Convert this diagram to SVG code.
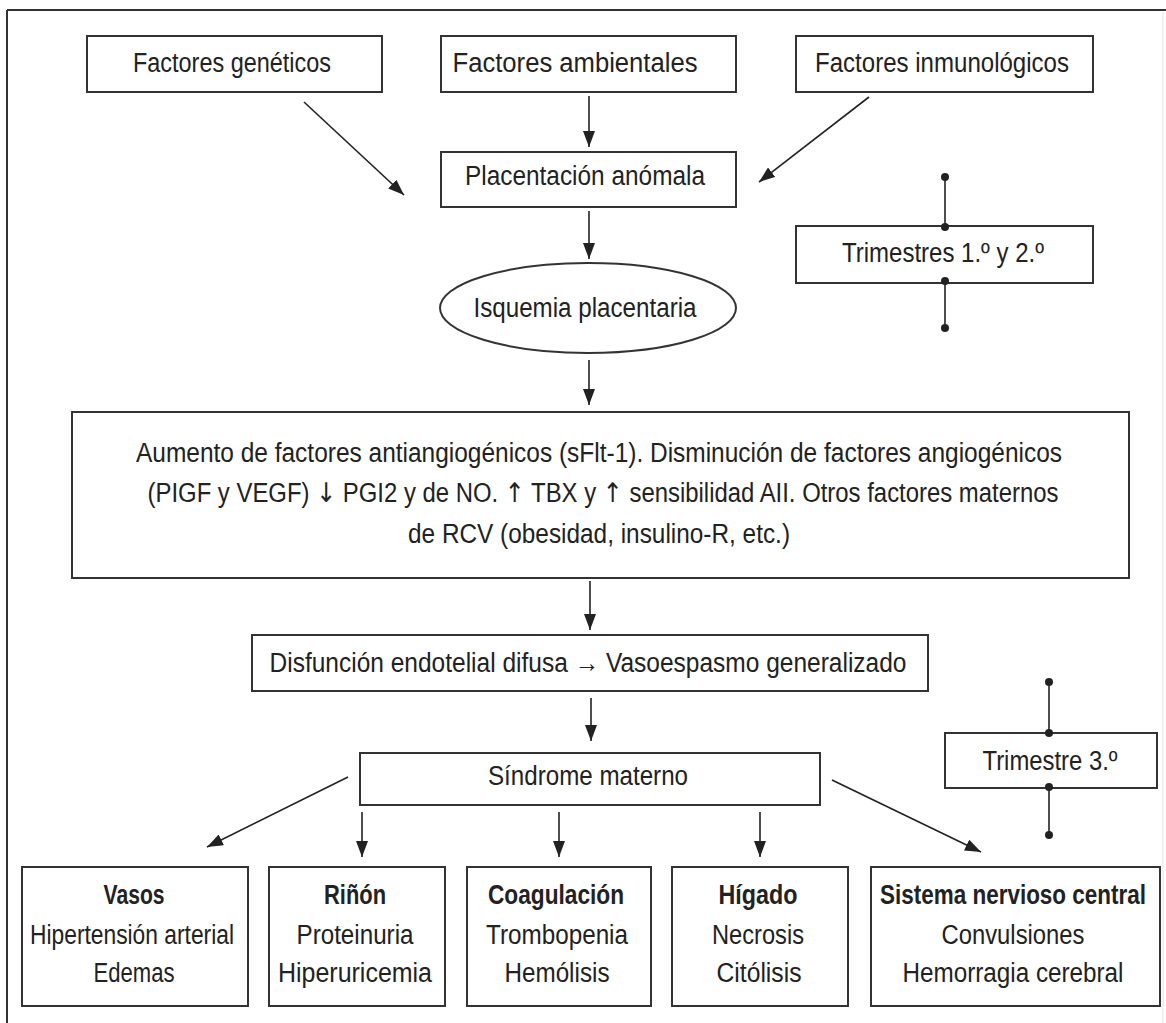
<svg xmlns="http://www.w3.org/2000/svg" width="1166" height="1023" viewBox="0 0 1166 1023">
<defs>
<marker id="ah" markerUnits="userSpaceOnUse" markerWidth="16" markerHeight="12" refX="16" refY="6" orient="auto">
<path d="M0,0 L16,6 L0,12 z" fill="#222"/>
</marker>
<style>
.box{fill:#fff;stroke:#333;stroke-width:2}
.t{font-family:"Liberation Sans",Arial,sans-serif;font-size:27px;fill:#222;text-anchor:middle}
.b{font-weight:bold}
.ar{font-family:"DejaVu Sans",sans-serif;fill:#222}
.c{stroke:#222;stroke-width:1.6;fill:none}
.cm{stroke:#222;stroke-width:1.6;fill:none;marker-end:url(#ah)}
.dot{fill:#222}
</style>
</defs>
<rect x="0" y="0" width="1166" height="1023" fill="#fff"/>
<g id="frame">
<line x1="7" y1="10" x2="1166" y2="10" stroke="#333" stroke-width="2"/>
<line x1="7" y1="10" x2="7" y2="1023" stroke="#333" stroke-width="2"/>
<line x1="1163" y1="12" x2="1163" y2="1023" stroke="#e4e4e4" stroke-width="1"/>
</g>
<g id="connectors">
<line class="cm" x1="304" y1="102" x2="404" y2="195"/>
<line class="cm" x1="589" y1="96" x2="589" y2="147"/>
<line class="cm" x1="869" y1="97" x2="759" y2="182"/>
<line class="cm" x1="589" y1="211" x2="589" y2="259"/>
<line class="cm" x1="589" y1="360" x2="589" y2="405"/>
<line class="cm" x1="590" y1="581" x2="590" y2="630"/>
<line class="cm" x1="591" y1="698" x2="591" y2="741"/>
<line class="cm" x1="348" y1="777" x2="207" y2="847"/>
<line class="cm" x1="362" y1="812" x2="362" y2="857"/>
<line class="cm" x1="559" y1="812" x2="559" y2="857"/>
<line class="cm" x1="760" y1="812" x2="760" y2="857"/>
<line class="cm" x1="832" y1="780" x2="981" y2="852"/>
</g>
<g id="factores-geneticos">
<rect class="box" x="87" y="36" width="295" height="56"/>
<text class="t" x="232" y="72" textLength="198" lengthAdjust="spacingAndGlyphs">Factores genéticos</text>
</g>
<g id="factores-ambientales">
<rect class="box" x="441" y="36" width="295" height="56"/>
<text class="t" x="575" y="72" textLength="245" lengthAdjust="spacingAndGlyphs">Factores ambientales</text>
</g>
<g id="factores-inmunologicos">
<rect class="box" x="796" y="36" width="297" height="56"/>
<text class="t" x="942" y="72" textLength="254" lengthAdjust="spacingAndGlyphs">Factores inmunológicos</text>
</g>
<g id="placentacion">
<rect class="box" x="441" y="152" width="295" height="55"/>
<text class="t" x="585" y="185" textLength="240" lengthAdjust="spacingAndGlyphs">Placentación anómala</text>
</g>
<g id="trimestres-1-2">
<line class="c" x1="945" y1="177" x2="945" y2="227"/>
<line class="c" x1="945" y1="280" x2="945" y2="328"/>
<rect class="box" x="796" y="226" width="297" height="57"/>
<circle class="dot" cx="945" cy="177" r="4"/>
<circle class="dot" cx="945" cy="227" r="4"/>
<circle class="dot" cx="945" cy="281" r="4"/>
<circle class="dot" cx="945" cy="328" r="4"/>
<text class="t" x="943" y="262" textLength="202" lengthAdjust="spacingAndGlyphs">Trimestres 1.º y 2.º</text>
</g>
<g id="isquemia">
<ellipse class="box" cx="588" cy="308" rx="148" ry="45"/>
<text class="t" x="585" y="317" textLength="223" lengthAdjust="spacingAndGlyphs">Isquemia placentaria</text>
</g>
<g id="factores-angiogenicos">
<rect class="box" x="72" y="412" width="1057" height="166"/>
<text class="t" x="599" y="462" textLength="926" lengthAdjust="spacingAndGlyphs">Aumento de factores antiangiogénicos (sFlt-1). Disminución de factores angiogénicos</text>
<text class="t" x="603" y="502" textLength="911" lengthAdjust="spacingAndGlyphs">(PIGF y VEGF) <tspan class="ar">↓</tspan> PGI2 y de NO. <tspan class="ar">↑</tspan> TBX y <tspan class="ar">↑</tspan> sensibilidad AII. Otros factores maternos</text>
<text class="t" x="599" y="543" textLength="382" lengthAdjust="spacingAndGlyphs">de RCV (obesidad, insulino-R, etc.)</text>
</g>
<g id="disfuncion">
<rect class="box" x="252" y="635" width="676" height="56"/>
<text class="t" x="588" y="672" textLength="637" lengthAdjust="spacingAndGlyphs">Disfunción endotelial difusa → Vasoespasmo generalizado</text>
</g>
<g id="sindrome">
<rect class="box" x="360" y="753" width="460" height="52"/>
<text class="t" x="588" y="785" textLength="200" lengthAdjust="spacingAndGlyphs">Síndrome materno</text>
</g>
<g id="trimestre-3">
<line class="c" x1="1049" y1="682" x2="1049" y2="733"/>
<line class="c" x1="1049" y1="787" x2="1049" y2="835"/>
<rect class="box" x="945" y="733" width="212" height="55"/>
<circle class="dot" cx="1049" cy="682" r="4"/>
<circle class="dot" cx="1049" cy="733" r="4"/>
<circle class="dot" cx="1049" cy="787" r="4"/>
<circle class="dot" cx="1049" cy="835" r="4"/>
<text class="t" x="1050" y="770" textLength="135" lengthAdjust="spacingAndGlyphs">Trimestre 3.º</text>
</g>
<g id="vasos">
<rect class="box" x="22" y="867" width="226" height="139"/>
<text class="t b" x="134" y="904" textLength="61" lengthAdjust="spacingAndGlyphs">Vasos</text>
<text class="t" x="132" y="944" textLength="204" lengthAdjust="spacingAndGlyphs">Hipertensión arterial</text>
<text class="t" x="134" y="982" textLength="81" lengthAdjust="spacingAndGlyphs">Edemas</text>
</g>
<g id="rinon">
<rect class="box" x="269" y="867" width="176" height="139"/>
<text class="t b" x="355" y="904" textLength="62" lengthAdjust="spacingAndGlyphs">Riñón</text>
<text class="t" x="355" y="944" textLength="117" lengthAdjust="spacingAndGlyphs">Proteinuria</text>
<text class="t" x="355" y="982" textLength="154" lengthAdjust="spacingAndGlyphs">Hiperuricemia</text>
</g>
<g id="coagulacion">
<rect class="box" x="467" y="867" width="184" height="139"/>
<text class="t b" x="556" y="904" textLength="136" lengthAdjust="spacingAndGlyphs">Coagulación</text>
<text class="t" x="557" y="944" textLength="142" lengthAdjust="spacingAndGlyphs">Trombopenia</text>
<text class="t" x="557" y="982" textLength="105" lengthAdjust="spacingAndGlyphs">Hemólisis</text>
</g>
<g id="higado">
<rect class="box" x="672" y="867" width="176" height="139"/>
<text class="t b" x="758" y="904" textLength="79" lengthAdjust="spacingAndGlyphs">Hígado</text>
<text class="t" x="758" y="944" textLength="92" lengthAdjust="spacingAndGlyphs">Necrosis</text>
<text class="t" x="759" y="982" textLength="85" lengthAdjust="spacingAndGlyphs">Citólisis</text>
</g>
<g id="snc">
<rect class="box" x="871" y="867" width="289" height="139"/>
<text class="t b" x="1013" y="904" font-size="23" textLength="266" lengthAdjust="spacingAndGlyphs">Sistema nervioso central</text>
<text class="t" x="1013" y="944" textLength="143" lengthAdjust="spacingAndGlyphs">Convulsiones</text>
<text class="t" x="1013" y="982" textLength="221" lengthAdjust="spacingAndGlyphs">Hemorragia cerebral</text>
</g>
</svg>
